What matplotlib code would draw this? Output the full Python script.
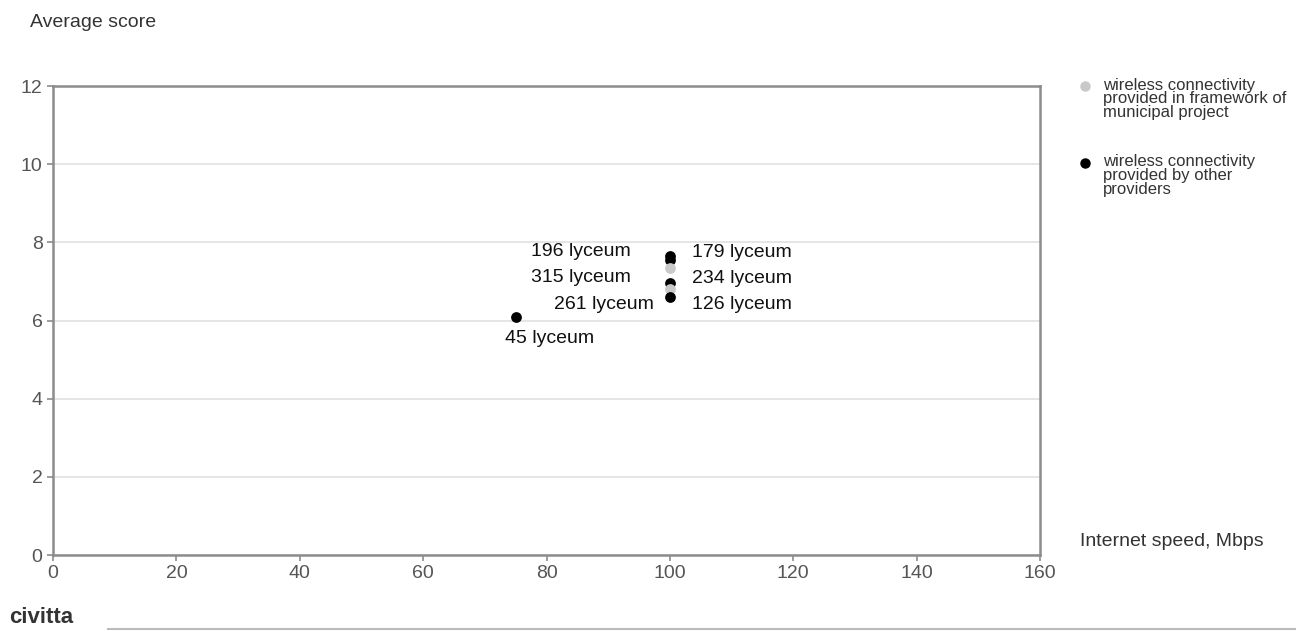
import matplotlib.pyplot as plt

plt.rcParams.update({
    'font.family': 'Liberation Sans',
    'font.size': 14,
})

# data
speed = [100, 100, 100, 100, 100, 100, 75]
score = [7.65, 7.55, 7.35, 6.95, 6.8, 6.6, 6.1]
schools = ['179 lyceum', '196 lyceum', '315 lyceum', '234 lyceum',
           '261 lyceum', '126 lyceum', '45 lyceum']
municipal = [False, False, True, False, True, False, False]

LEGEND = ['wireless connectivity\nprovided in framework of\nmunicipal project',
          'wireless connectivity\nprovided by other\nproviders']

# label placement (pixel offsets from point, alignment)
OFFSETS = [(22, 4, 'left'), (-39, 8, 'right'), (-39, -10, 'right'),
           (22, 5, 'left'), (-16, -15, 'right'), (22, -7, 'left'),
           (-11, -22, 'left')]

GREY = '#c9c9c9'
DARK = '#000000'

fig = plt.figure(figsize=(12.96, 6.31), dpi=100)
ax = fig.add_axes([0.0409, 0.1204, 0.7616, 0.7433])

for i in range(len(speed)):
    ax.scatter(speed[i], score[i], s=60, color=GREY if municipal[i] else DARK,
               zorder=3, linewidths=0)
    dx, dy, ha = OFFSETS[i]
    ax.annotate(schools[i], (speed[i], score[i]), xytext=(dx, dy),
                textcoords='offset pixels', ha=ha, va='center',
                fontsize=14, color='#111111')

ax.set_xlim(0, 160)
ax.set_ylim(0, 12)
ax.set_xticks(range(0, 161, 20))
ax.set_yticks(range(0, 13, 2))
ax.yaxis.grid(True, color='#e0e0e0', linewidth=1.2)
ax.set_axisbelow(True)
for sp in ax.spines.values():
    sp.set_color('#8c8c8c')
    sp.set_linewidth(1.8)
ax.tick_params(colors='#8c8c8c', labelcolor='#555555', labelsize=14,
               length=4, width=1.2)

fig.text(0.023, 0.965, 'Average score', fontsize=14, color='#333333',
         va='center')
fig.text(0.833, 0.142, 'Internet speed, Mbps', fontsize=14, color='#333333',
         va='center')

# legend
fig.lines.append(plt.Line2D([0.8375], [0.863], marker='o', markersize=6.5,
                            color=GREY, linestyle='none',
                            transform=fig.transFigure))
fig.text(0.851, 0.877, LEGEND[0], fontsize=12, color='#333333', va='top',
         linespacing=0.9)
fig.lines.append(plt.Line2D([0.8375], [0.742], marker='o', markersize=6.5,
                            color=DARK, linestyle='none',
                            transform=fig.transFigure))
fig.text(0.851, 0.756, LEGEND[1], fontsize=12, color='#333333', va='top',
         linespacing=0.9)

# footer
fig.text(0.007, 0.022, 'civitta', fontsize=16, fontweight='bold',
         color='#333333', va='center')
fig.lines.append(plt.Line2D([0.083, 1.0], [0.003, 0.003], color='#bbbbbb',
                            linewidth=1.5, transform=fig.transFigure))

fig.savefig('out.png', dpi=100, facecolor='white')
